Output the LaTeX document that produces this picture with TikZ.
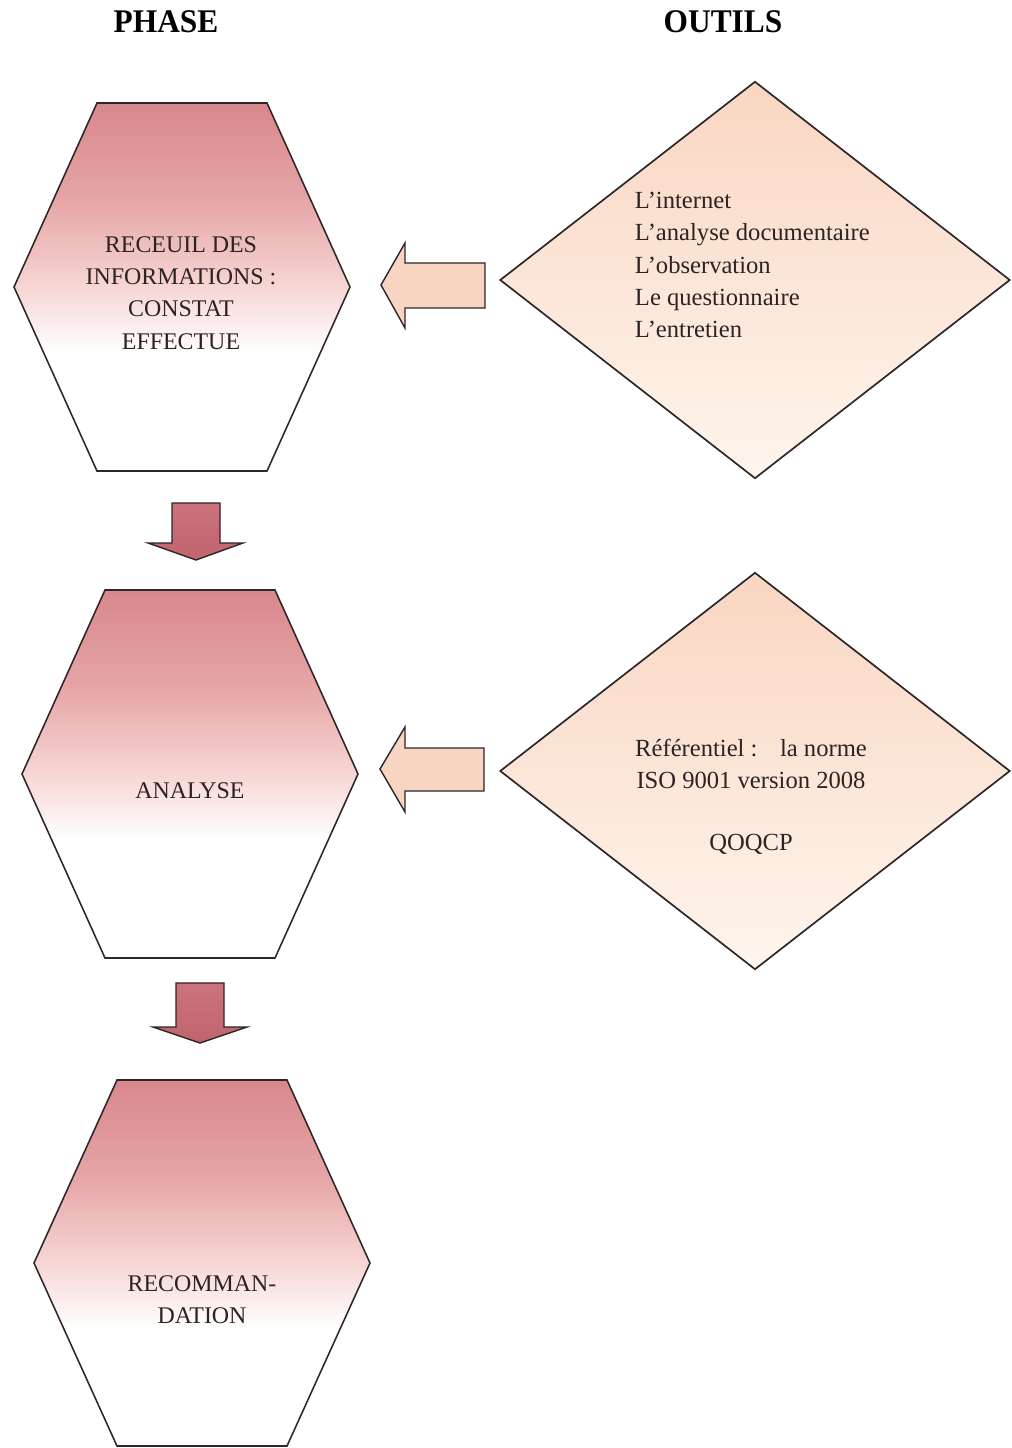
\documentclass[tikz,border=0pt]{standalone}
\usepackage{fontspec}
\setmainfont{Liberation Serif}
\newfontfamily\headfont[FakeStretch=0.95]{Liberation Serif}
\usetikzlibrary{shapes.geometric, positioning}
\definecolor{RoseTop}{RGB}{216, 136, 141}
\definecolor{RoseUp}{RGB}{230, 164, 166}
\definecolor{RoseMid}{RGB}{246, 214, 212}
\definecolor{PeachTop}{RGB}{249, 214, 194}
\definecolor{PeachLow}{RGB}{254, 245, 237}
\definecolor{ArrowPeach}{RGB}{248, 212, 194}
\definecolor{ArrowRose}{RGB}{205, 115, 125}
\definecolor{ArrowRoseDark}{RGB}{192, 100, 110}
\definecolor{EdgeGray}{RGB}{45, 38, 38}
\definecolor{TextGray}{RGB}{45, 35, 35}
\pgfdeclareverticalshading{hexfade}{100bp}{color(0bp)=(white); color(25bp)=(white); color(41bp)=(white); color(50bp)=(RoseMid); color(62bp)=(RoseUp); color(75bp)=(RoseTop); color(100bp)=(RoseTop)}
\tikzset{
  phasebox/.style={draw=EdgeGray, line width=1.1pt, shade, shading=hexfade},
  phasetext/.style={text=TextGray, align=center, font=\fontsize{17}{23}\selectfont},
  tooldiamond/.style={diamond, draw=EdgeGray, line width=1.2pt, top color=PeachTop, bottom color=PeachLow, minimum width=12.75cm, minimum height=9.925cm, inner sep=0pt},
  tooltext/.style={text=TextGray, font=\fontsize{17.5}{23}\selectfont},
  leftblock/.style={draw=EdgeGray, line width=1pt, fill=ArrowPeach},
  downblock/.style={draw=EdgeGray, line width=1pt, top color=ArrowRose, bottom color=ArrowRoseDark},
  headtext/.style={font=\headfont\bfseries\fontsize{23.5}{28}\selectfont}
}
\begin{document}
\begin{tikzpicture}[x=0.025cm, y=-0.025cm]
  \useasboundingbox[fill=white] (0,0) rectangle (1012,1448);

  % column titles
  \node[headtext] (phase) at (166,22) {PHASE};
  \node[headtext] (outils) at (723,22) {OUTILS};

  % phases
  \draw[phasebox] (182,287) ++(-85,-184) -- ++(170,0) -- ++(83,184) -- ++(-83,184) -- ++(-170,0) -- ++(-83,-184) -- cycle;
  \draw[phasebox] (190,774) ++(-85,-184) -- ++(170,0) -- ++(83,184) -- ++(-83,184) -- ++(-170,0) -- ++(-83,-184) -- cycle;
  \draw[phasebox] (202,1263) ++(-85,-183) -- ++(170,0) -- ++(83,183) -- ++(-83,183) -- ++(-170,0) -- ++(-83,-183) -- cycle;
  \node[phasetext] (recueil) at (181,293) {RECEUIL DES\\INFORMATIONS :\\CONSTAT\\EFFECTUE};
  \node[phasetext] (analyse) at (190,791) {ANALYSE};
  \node[phasetext] (recommandation) at (202,1300) {RECOMMAN-\\DATION};

  % tools
  \node[tooldiamond] (outils1) at (755,280) {};
  \node[tooldiamond] (outils2) at (755,771) {};
  \node[tooltext, anchor=west, align=left] (liste) at (630,265) {L’internet\\L’analyse documentaire\\L’observation\\Le questionnaire\\L’entretien};
  \node[tooltext, align=center] (norme) at (751,797) {Référentiel :\hspace{16pt}la norme\\ISO 9001 version 2008\\[21pt]QOQCP};

  % block arrows
  \draw[leftblock] (381,285) -- (405,243) -- (405,263) -- (485,263) -- (485,308) -- (405,308) -- (405,328) -- cycle;
  \draw[leftblock] (380,769) -- (405,727) -- (405,748) -- (484,748) -- (484,791) -- (405,791) -- (405,812) -- cycle;
  \draw[downblock] (172,503) -- (220,503) -- (220,543) -- (243,543) -- (196,560) -- (148,543) -- (172,543) -- cycle;
  \draw[downblock] (176,983) -- (224,983) -- (224,1027) -- (247,1027) -- (200,1043) -- (153,1027) -- (176,1027) -- cycle;
\end{tikzpicture}
\end{document}
